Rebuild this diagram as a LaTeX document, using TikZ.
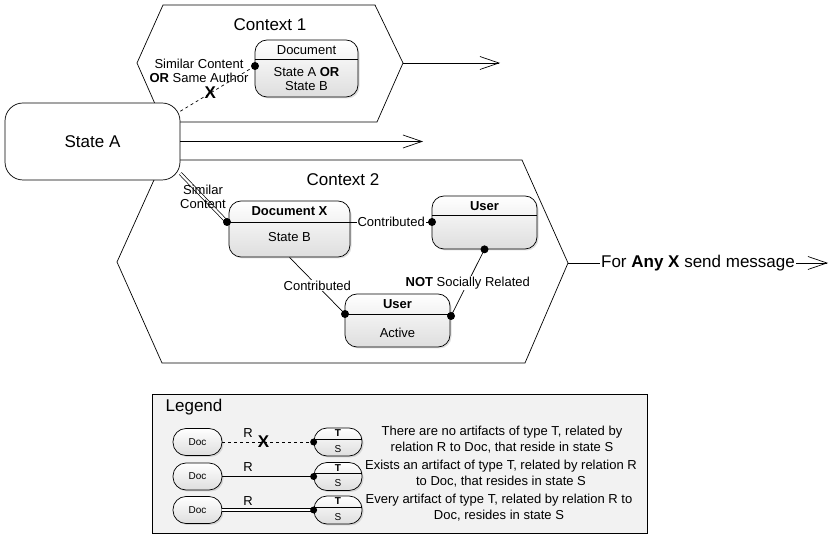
\documentclass[tikz,border=0pt]{standalone}
\usepackage{fontspec}
\setmainfont{Liberation Sans}
\usetikzlibrary{arrows.meta,shadows}

\tikzset{
  statebox/.style={draw, rounded corners=12pt, top color=white, bottom color=black!13,
    drop shadow={shadow xshift=1.5pt, shadow yshift=-1.5pt, opacity=0.25}, inner sep=0pt},
  pill/.style={statebox, rounded corners=13pt, minimum height=27pt},
  lbl/.style={align=center, inner sep=1pt, fill=white},
  big/.style={font=\fontsize{17}{20}\selectfont},
  tiny/.style={font=\fontsize{10}{11}\selectfont, inner sep=0pt},
  openarrow/.style={-{Straight Barb[length=19pt,width=13pt]}},
  dot/.style={circle, fill, inner sep=0pt, minimum size=8pt},
  smalldot/.style={dot, minimum size=7pt},
}

\begin{document}
\begin{tikzpicture}[x=1pt, y=-1pt, line width=0.7pt, font=\fontsize{13}{14}\selectfont]
  \useasboundingbox (0,0) rectangle (831,537);

  % context 1
  \coordinate (c1e) at (403,63);
  \coordinate (c1end) at (500,63);
  \draw (163,5) -- (375,5) -- (c1e) -- (377,122) -- (163,122) -- (137,63) -- cycle;
  \node[big] (ctx1) at (270,25) {Context 1};

  % context 2
  \coordinate (c2e) at (568,263);
  \coordinate (c2end) at (828,263);
  \draw (163,160) -- (522,160) -- (c2e) -- (525,363) -- (162,363) -- (117,262) -- cycle;
  \node[big] (ctx2) at (343,180) {Context 2};

  % start state
  \node[draw, fill=white, rounded corners=18pt, minimum width=175pt, minimum height=77pt,
    font=\fontsize{17}{20}\selectfont] (statea) at (92.5,141.5) {State A};
  \coordinate (aend) at (423,141.5);
  \draw[openarrow] (statea.east) -- (aend);
  \draw[openarrow] (c1e) -- (c1end);

  % boxes
  \node[statebox, minimum width=103pt, minimum height=57pt] (doc1) at (306.5,68.5) {};
  \draw (doc1.west |- 0,59) -- (doc1.east |- 0,59);
  \node (doc1h) at (306.5,50) {Document};
  \node[align=center] (doc1b) at (306.5,79) {State A \textbf{OR}\\State B};

  \node[statebox, minimum width=121pt, minimum height=56pt] (docx) at (289.5,229) {};
  \node (docxh) at (289.5,211) {\textbf{Document X}};
  \node (docxb) at (289.5,237) {State B};

  \node[statebox, minimum width=105pt, minimum height=53pt] (user1) at (484.5,222.5) {};
  \draw (user1.west |- 0,215) -- (user1.east |- 0,215);
  \node (user1h) at (484.5,206) {\textbf{User}};

  \node[statebox, minimum width=105pt, minimum height=53pt] (user2) at (397.5,320.5) {};
  \draw (user2.west |- 0,314) -- (user2.east |- 0,314);
  \node (user2h) at (397.5,304) {\textbf{User}};
  \node (user2b) at (397.5,333) {Active};

  % connectors
  \coordinate (d1in) at (255,66);
  \draw[dashed] (statea.19) -- node[pos=0.4, font=\bfseries\fontsize{17}{17}\selectfont, inner sep=0pt] (x1) {X} (d1in);
  \fill (d1in) circle (4pt);
  \node[align=center, inner sep=0pt] (l1) at (199,71) {Similar Content\\\textbf{OR} Same Author};

  \coordinate (dxin) at (227,222);
  \draw[double, double distance=2.2pt] (statea.-20) -- (dxin);
  \node[align=center, inner sep=0pt] (l2) at (203,197) {Similar\\Content};
  \draw (dxin) -- (docx.east |- dxin) coordinate (dxout);
  \coordinate (u1in) at (432,222);
  \draw (dxout) -- node[lbl] (l3) {Contributed} (u1in);
  \coordinate (u2in) at (345,314);
  \draw (docx.south) -- node[lbl] (l4) {Contributed} (u2in);
  \coordinate (u2out) at (451,316);
  \draw (user1.south) -- node[lbl] (l5) {\textbf{NOT} Socially Related} (u2out);
  \foreach \p in {dxin, u1in, u2in, u2out, user1.south} \fill (\p) circle (4pt);

  \draw[openarrow] (c2e) -- node[lbl, big] (l6) {For \textbf{Any X} send message} (c2end);

  % legend
  \draw[fill=black!5] (152,394) rectangle (647,533);
  \node[big, anchor=west] (leg) at (162,407) {Legend};
  \foreach \i/\y in {1/442, 2/476.5, 3/510} {
    \node[pill, minimum width=49pt] (doc\i) at (197.5,\y) {};
    \node[tiny] at (197.5,\y) {Doc};
    \node[pill, minimum width=48pt, minimum height=28pt] (ts\i) at (338,\y) {};
    \draw (ts\i.west |- 0,\y-3) -- (ts\i.east |- 0,\y-3);
    \node[tiny] at (338,\y-8.5) {\textbf{T}};
    \node[tiny] at (338,\y+7) {S};
    \node[inner sep=0pt] at (248,\y-9) {R};
  }
  \draw[dashed] (doc1.east) -- node[pos=0.45, font=\bfseries\fontsize{17}{17}\selectfont, inner sep=0pt] {X} (ts1.west);
  \draw (doc2.east) -- (ts2.west);
  \draw[double, double distance=2.2pt] (doc3.east) -- (ts3.west);
  \foreach \i in {1,2,3} \fill (ts\i.west) circle (3.5pt);

  \node[align=center, font=\fontsize{13}{16}\selectfont] (t1) at (502,440)
    {There are no artifacts of type T, related by\\relation R to Doc, that reside in state S};
  \node[align=center, font=\fontsize{13}{16}\selectfont] (t2) at (501,474)
    {Exists an artifact of type T, related by relation R\\to Doc, that resides in state S};
  \node[align=center, font=\fontsize{13}{16}\selectfont] (t3) at (499,507.5)
    {Every artifact of type T, related by relation R to\\Doc, resides in state S};
\end{tikzpicture}
\end{document}
